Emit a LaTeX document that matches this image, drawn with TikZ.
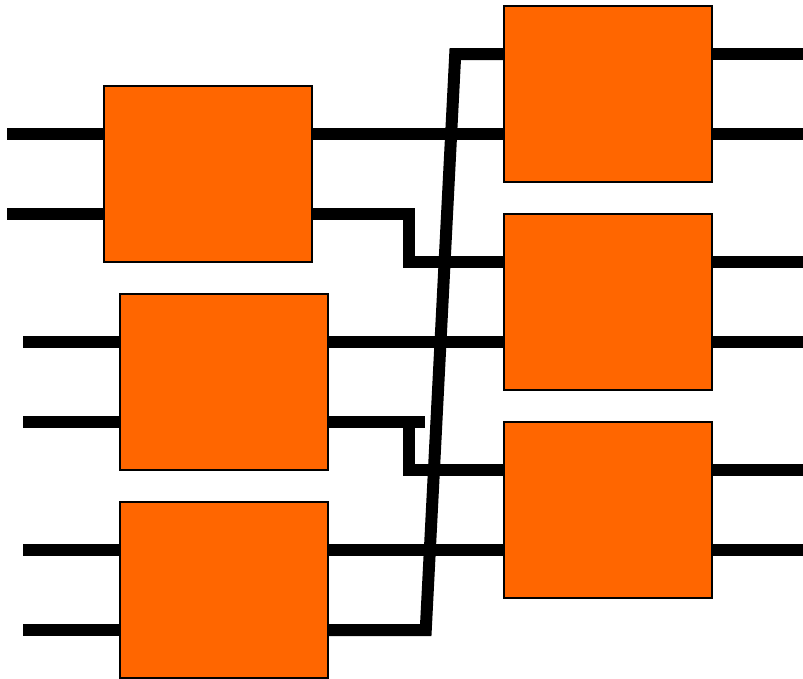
\documentclass[tikz,border=0pt]{standalone}
\usepackage{xcolor}
\usepackage{tikz}
\usetikzlibrary{positioning}
\definecolor{boxorange}{HTML}{FF6600}

\begin{document}
\begin{tikzpicture}[
  x=1pt, y=-1pt,
  box/.style={draw, line width=1.5pt, fill=boxorange, minimum width=208pt, minimum height=176pt, inner sep=0pt},
  wire/.style={line width=12pt, line join=miter}
]
\useasboundingbox (0,0) rectangle (803,678);

% first stage
\node[box] (swa) at (208,174) {};
\node[box] (swb) at (224,382) {};
\node[box] (swc) at (224,590) {};

% second stage
\node[box] (swd) at (608,94) {};
\node[box] (swe) at (608,302) {};
\node[box] (swf) at (608,510) {};

% inputs
\draw[wire] ([yshift=40pt]swa.west) -- ++(-96,0);
\draw[wire] ([yshift=-40pt]swa.west) -- ++(-96,0);
\draw[wire] ([yshift=40pt]swb.west) -- ++(-96,0);
\draw[wire] ([yshift=-40pt]swb.west) -- ++(-96,0);
\draw[wire] ([yshift=40pt]swc.west) -- ++(-96,0);
\draw[wire] ([yshift=-40pt]swc.west) -- ++(-96,0);

% outputs
\draw[wire] ([yshift=40pt]swd.east) -- ++(91,0);
\draw[wire] ([yshift=-40pt]swd.east) -- ++(91,0);
\draw[wire] ([yshift=40pt]swe.east) -- ++(91,0);
\draw[wire] ([yshift=-40pt]swe.east) -- ++(91,0);
\draw[wire] ([yshift=40pt]swf.east) -- ++(91,0);
\draw[wire] ([yshift=-40pt]swf.east) -- ++(91,0);

% links between stages
\draw[wire] ([yshift=40pt]swa.east) -- ([yshift=-40pt]swd.west);
\draw[wire] ([yshift=-40pt]swa.east) -- ++(96,0) |- ([yshift=40pt]swe.west);
\draw[wire] ([yshift=40pt]swb.east) -- ([yshift=-40pt]swe.west);
\draw[wire] ([yshift=-40pt]swb.east) -- ++(80,0) |- ([yshift=40pt]swf.west);
\draw[wire] ([yshift=-40pt]swb.east) -- ++(96,0);
\draw[wire] ([yshift=40pt]swc.east) -- ([yshift=-40pt]swf.west);
\draw[wire] ([yshift=-40pt]swc.east) -- ++(97,0) -- ([xshift=-48pt,yshift=40pt]swd.west) -- ([yshift=40pt]swd.west);
\end{tikzpicture}
\end{document}
